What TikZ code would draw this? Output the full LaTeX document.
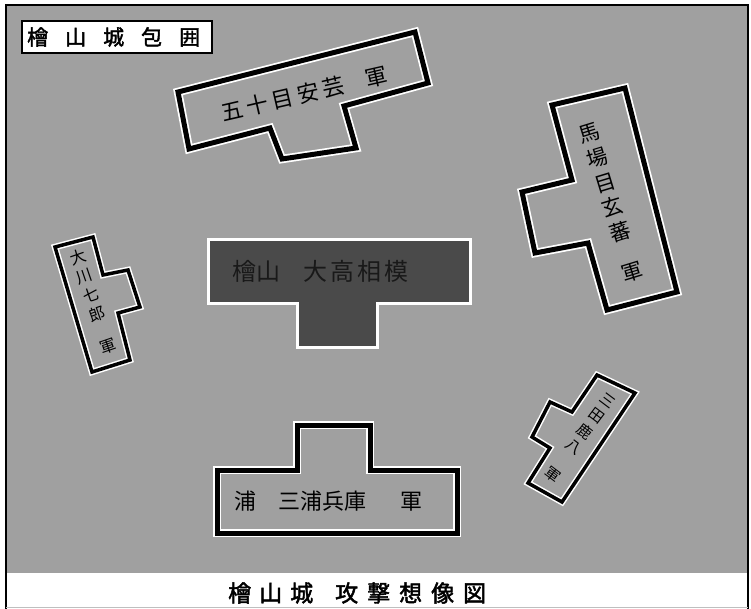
\documentclass[tikz,border=0pt]{standalone}
\usepackage{fontspec}
\newfontfamily\cjk{Noto Sans CJK JP}
\newfontfamily\cjkb[FakeBold=2]{Noto Sans CJK JP}
\definecolor{bggray}{RGB}{160,160,160}
\definecolor{boxdark}{RGB}{74,74,74}
\tikzset{
  halo/.style={draw=white, line width=8.5pt, line join=miter},
  outline/.style={draw=black, line width=5pt, line join=miter},
  halothin/.style={draw=white, line width=6.5pt, line join=miter},
  outlinethin/.style={draw=black, line width=3.5pt, line join=miter},
  lbl/.style={inner sep=0pt, text=black},
}
\newcommand\armybox[1]{\draw[halo] #1; \draw[outline] #1;}
\newcommand\armyboxthin[1]{\draw[halothin] #1; \draw[outlinethin] #1;}
\begin{document}
\begin{tikzpicture}[x=1pt,y=-1pt]
\useasboundingbox (0,0) rectangle (751,609);
\fill[white] (0,0) rectangle (751,609);
\fill[bggray] (6,5) rectangle (748,573);
\draw[line width=1.5pt] (6,609) -- (6,5) -- (748,5) -- (748,609);
\draw[black!25, line width=1pt] (6,607) -- (748,607);

% title box
\node[draw=black, line width=2pt, fill=white, minimum width=190pt, minimum height=32pt, inner sep=0pt] (titlebox) at (117,37) {};
\node[lbl, anchor=west, font={\cjkb\fontsize{21}{24}\selectfont}] (title) at (27,37)
  {檜\hspace{17pt}山\hspace{17pt}城\hspace{17pt}包\hspace{17pt}囲};

% top box
\armybox{(178,92) -- (415,32) -- (428,83) -- (344,106) -- (356,148) -- (282,159) -- (270,128) -- (189,149) -- cycle}
\node[lbl, rotate=13, font={\cjk\fontsize{22}{24}\selectfont}] (isome) at (304,94)
  {五\kern4pt十\kern4pt目\kern4pt安\kern4pt芸\hspace{22pt}軍};

% right box
\armybox{(552,105) -- (625,88) -- (677,292) -- (607,310) -- (588,243) -- (535,253) -- (522,192) -- (572,180) -- cycle}
\node[lbl, rotate=17, align=center, font={\cjk\fontsize{21}{26}\selectfont}] (bababa) at (611,203)
  {馬\\場\\目\\玄\\蕃\\[16pt]軍};

% left box
\armyboxthin{(55,247) -- (93,237) -- (103,275) -- (128,270) -- (140,307) -- (118,313) -- (130,360) -- (92,372) -- cycle}
\node[lbl, rotate=19, align=center, font={\cjk\fontsize{16}{20}\selectfont}] (okawa) at (93,302)
  {大\\川\\七\\郎\\[14pt]軍};

% bottom-right box
\armyboxthin{(597,375) -- (635,393) -- (562,502) -- (528,483) -- (550,448) -- (532,437) -- (550,402) -- (572,412) -- cycle}
\node[lbl, rotate=-37, align=center, font={\cjk\fontsize{15}{19}\selectfont}] (mita) at (580,438)
  {三\\田\\鹿\\八\\[16pt]軍};

% center (castle) box
\draw[white, line width=3pt, fill=boxdark] (208,240) -- (470,240) -- (470,303) -- (377,303) -- (377,347) -- (297,347) -- (297,303) -- (208,303) -- cycle;
\node[lbl, anchor=west, text=black!90, font={\cjk\fontsize{24}{26}\selectfont}] (castle) at (232,271)
  {檜山\hspace{23pt}大\kern3pt高\kern3pt相\kern3pt模};

% bottom box
\armybox{(297,425) -- (370,425) -- (370,470) -- (457,470) -- (457,533) -- (217,533) -- (217,470) -- (297,470) -- cycle}
\node[lbl, anchor=west, font={\cjk\fontsize{22}{24}\selectfont}] (miura) at (234,501)
  {浦\hspace{22pt}三浦兵庫\hspace{34pt}軍};

% caption
\node[lbl, anchor=west, font={\cjkb\fontsize{23}{25}\selectfont}] (caption) at (228,593)
  {檜\hspace{8pt}山\hspace{8pt}城\hspace{22pt}攻\hspace{9pt}撃\hspace{9pt}想\hspace{9pt}像\hspace{9pt}図};
\end{tikzpicture}
\end{document}
